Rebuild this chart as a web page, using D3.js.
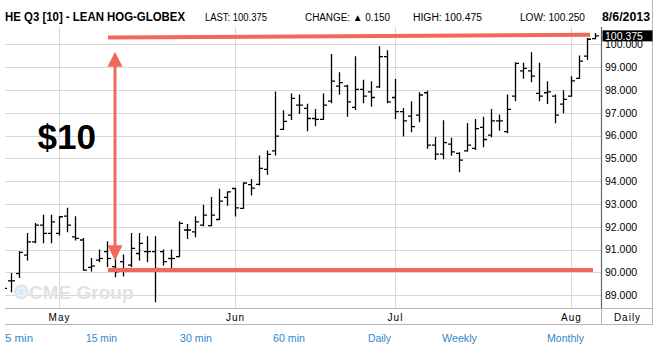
<!DOCTYPE html>
<html><head><meta charset="utf-8">
<script src="https://cdn.jsdelivr.net/npm/d3@7/dist/d3.min.js"></script>
<style>
html,body{margin:0;padding:0;background:#fff;}
svg{display:block;font-family:Arial,"Liberation Sans",sans-serif;}
</style></head>
<body><svg id="c" width="670" height="355"></svg>
<script>
const dates = [
"2013-04-22","2013-04-23","2013-04-24","2013-04-25","2013-04-26","2013-04-29","2013-04-30",
"2013-05-01","2013-05-02","2013-05-03","2013-05-06","2013-05-07","2013-05-08","2013-05-09","2013-05-10",
"2013-05-13","2013-05-14","2013-05-15","2013-05-16","2013-05-17","2013-05-20","2013-05-21","2013-05-22",
"2013-05-23","2013-05-24","2013-05-28","2013-05-29","2013-05-30","2013-05-31",
"2013-06-03","2013-06-04","2013-06-05","2013-06-06","2013-06-07","2013-06-10","2013-06-11","2013-06-12",
"2013-06-13","2013-06-14","2013-06-17","2013-06-18","2013-06-19","2013-06-20","2013-06-21","2013-06-24",
"2013-06-25","2013-06-26","2013-06-27","2013-06-28",
"2013-07-01","2013-07-02","2013-07-03","2013-07-05","2013-07-08","2013-07-09","2013-07-10","2013-07-11",
"2013-07-12","2013-07-15","2013-07-16","2013-07-17","2013-07-18","2013-07-19","2013-07-22","2013-07-23",
"2013-07-24","2013-07-25","2013-07-26","2013-07-29","2013-07-30","2013-07-31",
"2013-08-01","2013-08-02","2013-08-05","2013-08-06"];

const open = [89.30,89.63,89.95,90.76,91.34,92.07,91.71,
91.71,92.47,91.56,91.42,90.22,90.54,90.91,90.25,90.47,90.32,90.83,90.91,90.91,90.91,90.61,90.69,91.86,91.78,92.07,92.05,92.32,93.29,
93.68,92.81,93.85,93.86,94.52,95.33,96.27,96.90,97.34,97.19,96.75,96.71,97.51,98.17,98.17,97.24,98.03,97.92,98.14,99.46,
97.67,97.05,96.85,96.90,97.88,95.58,95.19,95.63,95.22,95.33,95.44,96.36,96.02,96.65,96.17,97.73,98.84,98.84,97.85,97.88,97.73,97.38,
97.73,98.51,99.49,100.25];
const high = [89.50,89.95,90.91,91.71,92.15,92.51,92.51,
92.44,92.81,92.44,91.49,90.61,90.98,91.34,90.69,90.76,91.71,91.71,91.56,91.56,90.98,90.98,92.22,92.10,92.44,92.95,93.29,93.65,93.53,
93.68,93.92,94.08,95.10,95.33,97.91,97.09,97.82,97.78,97.37,97.15,97.82,99.56,98.76,98.21,99.46,98.43,98.36,99.90,99.72,
98.46,97.19,97.48,97.88,97.95,95.92,96.65,95.88,95.25,96.53,96.71,96.80,97.15,96.90,97.78,99.19,99.17,99.63,99.17,98.36,97.78,97.97,
98.58,99.49,100.26,100.475];
const low = [89.10,89.15,89.78,90.54,91.30,91.30,91.30,
91.64,91.78,91.42,90.10,90.06,90.47,90.25,89.81,89.84,90.25,90.54,90.47,88.71,90.32,90.17,90.69,91.49,91.56,92.05,92.05,92.32,92.95,
92.47,92.80,93.39,93.83,94.30,95.15,96.27,96.71,96.97,96.21,96.43,96.71,97.44,97.81,96.85,97.15,97.44,97.29,98.11,97.44,
96.75,95.98,96.17,96.61,95.44,94.95,94.98,95.14,94.41,95.33,95.39,95.51,95.95,96.24,96.12,97.53,98.51,98.36,97.53,97.41,96.56,97.00,
97.73,98.51,99.34,100.25];
const close = [89.30,89.63,90.88,91.34,92.07,91.71,92.22,
92.44,92.07,91.49,90.10,90.28,90.61,90.61,90.03,90.10,91.05,91.27,90.91,90.17,90.47,90.61,92.15,91.86,92.22,92.51,92.51,93.13,93.53,
92.83,93.92,93.70,94.56,95.18,95.98,96.62,97.63,97.34,96.75,96.71,97.34,98.39,98.32,97.48,98.03,97.73,97.67,99.46,97.48,
97.05,96.65,96.39,97.78,95.58,95.19,95.69,95.29,94.92,95.58,96.31,95.83,96.65,96.65,97.15,99.17,98.95,98.61,97.73,97.92,96.90,97.59,
98.40,99.27,100.225,100.375];

const yTicks = [89,90,91,92,93,94,95,96,97,98,99,100];
const monthLabels = ["May","Jun","Jul","Aug"];
const lastValue = 100.375;
const headerTitle = "HE Q3 [10] - LEAN HOG-GLOBEX";
const headerStats = ["LAST: 100.375","CHANGE: \u25B2 0.150","HIGH: 100.475","LOW: 100.250"];
const headerDate = "8/6/2013";
const periodLinks = ["5 min","15 min","30 min","60 min","Daily","Weekly","Monthly"];

// annotation, in data units
const annoTop = {from:"2013-05-09", to:"2013-08-05", p1:100.30, p2:100.42};
const annoBottom = {from:"2013-05-09", to:"2013-08-05", p:90.10};
const annoArrow = {date:"2013-05-10", top:99.68, bottom:90.51};
const annoText = "$10";

const svg = d3.select("#c");
const W=670,H=355;
const plot = {l:5, r:601.5, t:27, b:308};

const x = d3.scalePoint().domain(dates).range([3.5,595.5]);
const y = d3.scaleLinear().domain([89,100]).range([295.2,44.4]);

const bars = dates.map((d,i)=>({d, o:open[i], h:high[i], l:low[i], c:close[i]}));

svg.append("rect").attr("width",W).attr("height",H).attr("fill","#fff");
svg.append("defs").append("clipPath").attr("id","pc").append("rect")
  .attr("x",plot.l).attr("y",plot.t).attr("width",plot.r-plot.l).attr("height",plot.b-plot.t);

// horizontal grid
svg.append("g").selectAll("line").data(yTicks).join("line")
  .attr("x1",plot.l).attr("x2",plot.r).attr("y1",d=>Math.round(y(d))+0.5).attr("y2",d=>Math.round(y(d))+0.5)
  .attr("stroke","#d9d9d9").attr("stroke-width",1);

// month gridlines
const parse = d3.timeParse("%Y-%m-%d");
const fmtM = d3.timeFormat("%b");
const monthStarts = [];
dates.forEach((d,i)=>{ if(i>0 && parse(d).getMonth()!==parse(dates[i-1]).getMonth()) monthStarts.push(d); });
const months = monthStarts.filter(d=>monthLabels.includes(fmtM(parse(d))));
svg.append("g").selectAll("line").data(months).join("line")
  .attr("x1",d=>x(d)).attr("x2",d=>x(d)).attr("y1",plot.t).attr("y2",plot.b)
  .attr("stroke","#d9d9d9").attr("stroke-width",1);

// watermark
const wm = svg.append("g");
wm.append("circle").attr("cx",21.5).attr("cy",292).attr("r",7.5).attr("fill","#dbe8f4");
wm.append("circle").attr("cx",21.5).attr("cy",292).attr("r",4).attr("fill","none").attr("stroke","#eef4fa").attr("stroke-width",1.5);
wm.append("text").attr("x",29).attr("y",299).attr("font-size",19).attr("font-weight","bold")
  .attr("fill","#e2e2e2").text("CME Group");

// OHLC bars
const gb = svg.append("g").attr("clip-path","url(#pc)").attr("stroke","#000").attr("stroke-width",1.3);
const bg = gb.selectAll("g").data(bars).join("g");
bg.append("line").attr("x1",d=>x(d.d)).attr("x2",d=>x(d.d)).attr("y1",d=>y(d.h)-0.5).attr("y2",d=>y(d.l)+0.5);
bg.append("line").attr("x1",d=>x(d.d)-3.5).attr("x2",d=>x(d.d)).attr("y1",d=>y(d.o)).attr("y2",d=>y(d.o));
bg.append("line").attr("x1",d=>x(d.d)).attr("x2",d=>x(d.d)+3.5).attr("y1",d=>y(d.c)).attr("y2",d=>y(d.c));

// frame lines
svg.append("line").attr("x1",plot.r).attr("x2",plot.r).attr("y1",plot.t).attr("y2",plot.b).attr("stroke","#666").attr("stroke-width",1.2);
svg.append("line").attr("x1",plot.l).attr("x2",652.5).attr("y1",308.5).attr("y2",308.5).attr("stroke","#b4b4b4");
svg.append("line").attr("x1",plot.l).attr("x2",652.5).attr("y1",324.5).attr("y2",324.5).attr("stroke","#b4b4b4");
svg.append("line").attr("x1",652.5).attr("x2",652.5).attr("y1",0).attr("y2",324.5).attr("stroke","#b4b4b4");
svg.append("line").attr("x1",plot.r).attr("x2",plot.r).attr("y1",308.5).attr("y2",324.5).attr("stroke","#b4b4b4");

// right axis labels
svg.append("g").selectAll("text").data(yTicks).join("text")
  .attr("x",605).attr("y",d=>y(d)+3.8).attr("font-size",10.5).attr("fill","#000")
  .text(d=>d3.format(".3f")(d));
// last value box
svg.append("rect").attr("x",602.5).attr("y",y(lastValue)-5.5).attr("width",50).attr("height",11).attr("fill","#000");
svg.append("text").attr("x",605).attr("y",y(lastValue)+4).attr("font-size",10.5).attr("fill","#fff").text(d3.format(".3f")(lastValue));

// month labels
svg.append("g").selectAll("text").data(months).join("text")
  .attr("x",d=>x(d)).attr("y",320.5).attr("text-anchor","middle").attr("font-size",10)
  .attr("letter-spacing",1).attr("fill","#000").text(d=>fmtM(parse(d)));
svg.append("text").attr("x",627.5).attr("y",320.5).attr("text-anchor","middle").attr("font-size",10)
  .attr("letter-spacing",1).text("Daily");

// header
svg.append("text").attr("x",5).attr("y",21).attr("font-size",12).attr("font-weight","bold")
  .attr("textLength",180).attr("lengthAdjust","spacingAndGlyphs").text(headerTitle);
const statX=[205,305,413,520], statW=[62,85,69,65];
headerStats.forEach((s,i)=>{
  svg.append("text").attr("x",statX[i]).attr("y",21).attr("font-size",10)
    .attr("textLength",statW[i]).attr("lengthAdjust","spacingAndGlyphs").text(s);
});
svg.append("text").attr("x",602).attr("y",21).attr("font-size",12).attr("font-weight","bold")
  .attr("textLength",48).attr("lengthAdjust","spacingAndGlyphs").text(headerDate);

// period links
const linkX=[5,86,180,273,368,442,547], linkW=[28,31,32,32,23,35,37];
periodLinks.forEach((s,i)=>{
  svg.append("text").attr("x",linkX[i]).attr("y",342).attr("font-size",11).attr("fill","#2f88d0")
    .attr("textLength",linkW[i]).attr("lengthAdjust","spacingAndGlyphs").text(s);
});

// annotations
const red = "#f2685a";
const ax0 = x(annoTop.from)+0.5, ax1 = x(annoTop.to)+2.5;
svg.append("line").attr("x1",ax0).attr("x2",ax1).attr("y1",y(annoTop.p1)).attr("y2",y(annoTop.p2))
  .attr("stroke",red).attr("stroke-width",4);
svg.append("line").attr("x1",x(annoBottom.from)+0.5).attr("x2",x(annoBottom.to)+5.5)
  .attr("y1",y(annoBottom.p)).attr("y2",y(annoBottom.p)).attr("stroke",red).attr("stroke-width",4);
const axx = x(annoArrow.date)-0.5, yt = y(annoArrow.top), yb = y(annoArrow.bottom);
svg.append("line").attr("x1",axx).attr("x2",axx).attr("y1",yt+12).attr("y2",yb-12).attr("stroke",red).attr("stroke-width",3);
svg.append("path").attr("d",`M${axx},${yt} L${axx-7.5},${yt+15} L${axx+7.5},${yt+15} Z`).attr("fill",red);
svg.append("path").attr("d",`M${axx},${yb} L${axx-7.5},${yb-15.5} L${axx+7.5},${yb-15.5} Z`).attr("fill",red);
svg.append("text").attr("x",37.5).attr("y",149).attr("font-size",35).attr("font-weight","bold")
  .attr("textLength",58.5).attr("lengthAdjust","spacingAndGlyphs").text(annoText);
</script></body></html>
